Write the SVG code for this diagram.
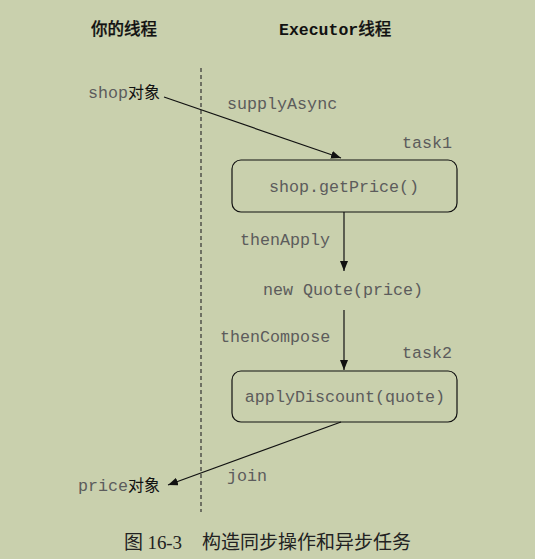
<svg xmlns="http://www.w3.org/2000/svg" width="535" height="559" viewBox="0 0 535 559">
<style>
.code{font-family:"Liberation Mono","Courier New",monospace;font-size:16.7px;fill:#5c5c5c}
.cjk{font-family:"Liberation Sans","Noto Sans CJK SC",sans-serif;fill:#111}
.title{font-family:"Liberation Mono","Noto Sans CJK SC",monospace;font-size:16.5px;font-weight:bold;fill:#111}
.box{fill:none;stroke:#111;stroke-width:1.2}
.conn{fill:none;stroke:#111;stroke-width:1.2}
</style>
<defs>
<marker id="arr" viewBox="0 0 10 8" refX="10" refY="4" markerWidth="10" markerHeight="8" markerUnits="userSpaceOnUse" orient="auto">
<path d="M0,0 L10,4 L0,8 Z" fill="#111"/>
</marker>
</defs>
<rect width="535" height="559" fill="#c9d0ad"/>
<g id="headers">
<text x="91" y="35" class="cjk" style="font-size:16.5px;font-weight:500;stroke:#111;stroke-width:0.25">你的线程</text>
<text x="279" y="35" class="title">Executor<tspan class="cjk" style="font-size:16.5px;font-weight:500;stroke:#111;stroke-width:0.25">线程</tspan></text>
</g>
<g id="divider">
<line x1="201" y1="68" x2="201" y2="512" stroke="#333" stroke-width="1.2" stroke-dasharray="4,3"/>
</g>
<g id="connectors">
<line class="conn" x1="164" y1="97" x2="341" y2="158" marker-end="url(#arr)"/>
<line class="conn" x1="344" y1="212" x2="344" y2="271" marker-end="url(#arr)"/>
<line class="conn" x1="344" y1="310" x2="344" y2="370" marker-end="url(#arr)"/>
<line class="conn" x1="341" y1="422" x2="168" y2="485" marker-end="url(#arr)"/>
<text x="227" y="109" class="code">supplyAsync</text>
<text x="240" y="245" class="code">thenApply</text>
<text x="220" y="342" class="code">thenCompose</text>
<text x="227" y="481" class="code">join</text>
</g>
<g id="shop">
<text x="88" y="98" class="code">shop<tspan class="cjk" style="font-size:16px;fill:#111">对象</tspan></text>
</g>
<g id="task1">
<text x="402" y="148" class="code">task1</text>
<rect class="box" x="232" y="160" width="225" height="52" rx="9"/>
<text x="344" y="192" class="code" text-anchor="middle">shop.getPrice()</text>
</g>
<g id="quote">
<text x="343" y="295" class="code" text-anchor="middle">new Quote(price)</text>
</g>
<g id="task2">
<text x="402" y="358" class="code">task2</text>
<rect class="box" x="232" y="371" width="225" height="51" rx="9"/>
<text x="345" y="402" class="code" text-anchor="middle">applyDiscount(quote)</text>
</g>
<g id="price">
<text x="78" y="491" class="code">price<tspan class="cjk" style="font-size:16px;fill:#111">对象</tspan></text>
</g>
<g id="caption">
<text x="124" y="549" style="font-family:'Liberation Serif','Noto Sans CJK SC',serif;font-size:19px;fill:#222" textLength="58" lengthAdjust="spacing">图 16-3</text>
<text x="202" y="549" style="font-family:'Liberation Serif','Noto Sans CJK SC',serif;font-size:19px;fill:#222" textLength="209" lengthAdjust="spacing">构造同步操作和异步任务</text>
</g>
</svg>
